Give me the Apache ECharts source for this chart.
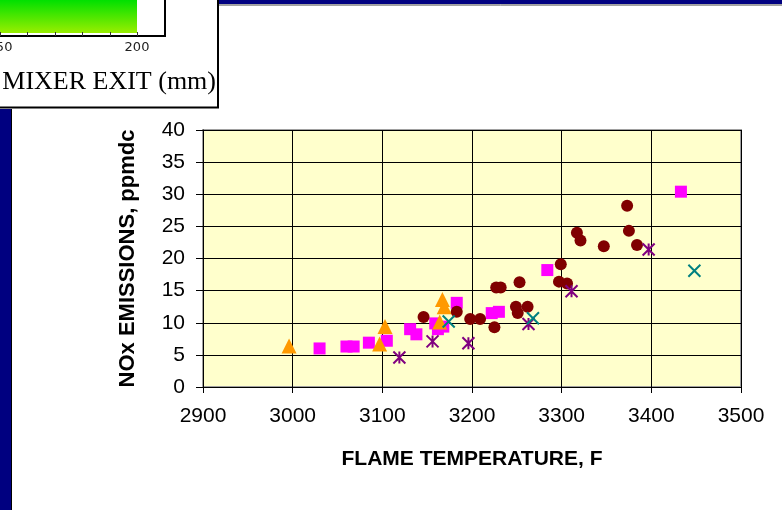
<!DOCTYPE html>
<html>
<head>
<meta charset="utf-8">
<script src="https://cdn.jsdelivr.net/npm/echarts@6/dist/echarts.min.js"></script>
<style>
  html, body { margin: 0; padding: 0; background: #fff; }
  #chart { width: 782px; height: 510px; }
</style>
</head>
<body>
<div id="chart"></div>
<script>
// axis ticks
const xTicks = [2900, 3000, 3100, 3200, 3300, 3400, 3500]
const yTicks = [0, 5, 10, 15, 20, 25, 30, 35, 40]

// [flame temperature F, NOx ppmdc]
const squarePts = [
  [3030, 6.0], [3060, 6.3], [3068, 6.3], [3085, 6.9], [3105, 7.2],
  [3131, 9.0], [3138, 8.2], [3159, 9.9], [3162, 9.0], [3168, 9.4],
  [3183, 13.1], [3222, 11.5], [3230, 11.7], [3284, 18.2], [3433, 30.4]
]
const trianglePts = [
  [2996, 6.4], [3097, 6.7], [3103, 9.4], [3164, 10.1], [3167, 13.6], [3169, 12.5]
]
const circlePts = [
  [3146, 10.9], [3183, 11.7], [3198, 10.6], [3209, 10.6], [3225, 9.3],
  [3227, 15.5], [3232, 15.5], [3249, 12.5], [3251, 11.5], [3253, 16.3],
  [3262, 12.5], [3297, 16.4], [3299, 19.1], [3306, 16.1], [3317, 24.0],
  [3321, 22.8], [3347, 21.9], [3373, 28.2], [3375, 24.3], [3384, 22.1]
]
const asteriskPts = [
  [3119, 4.6], [3156, 7.1], [3196, 6.8], [3263, 9.8], [3311, 14.9], [3397, 21.4]
]
const crossPts = [
  [3174, 10.2], [3268, 10.7], [3448, 18.1]
]

const asteriskPath = 'path://M0,0L10,10M10,0L0,10M5,0L5,10'
const crossPath = 'path://M0,0L10,10M10,0L0,10'

const navy = '#000080'
const font = 'Arial, "Liberation Sans", sans-serif'

const chart = echarts.init(document.getElementById('chart'))

chart.setOption({
  animation: false,
  backgroundColor: '#fff',
  grid: {
    left: 203,
    right: 41,
    top: 130,
    bottom: 123,
    show: true,
    backgroundColor: '#ffffcc',
    borderColor: '#a0a0a0',
    borderWidth: 2
  },
  xAxis: {
    type: 'value',
    min: xTicks[0],
    max: xTicks[xTicks.length - 1],
    interval: 100,
    name: 'FLAME TEMPERATURE, F',
    nameLocation: 'middle',
    nameGap: 62,
    nameTextStyle: { color: '#000', fontSize: 21, fontWeight: 'bold', fontFamily: font },
    axisLine: { show: true, lineStyle: { color: '#000', width: 1 } },
    axisTick: { show: true, inside: false, length: 6, lineStyle: { color: '#000' } },
    axisLabel: { color: '#000', fontSize: 21, fontFamily: font, margin: 19, formatter: v => String(v) },
    splitLine: { show: true, lineStyle: { color: '#000', width: 1 } }
  },
  yAxis: {
    type: 'value',
    min: yTicks[0],
    max: yTicks[yTicks.length - 1],
    interval: 5,
    name: 'NOx EMISSIONS, ppmdc',
    nameLocation: 'middle',
    nameGap: 64,
    nameTextStyle: { color: '#000', fontSize: 22, fontWeight: 'bold', fontFamily: font },
    axisLine: { show: true, lineStyle: { color: '#000', width: 1 } },
    axisTick: { show: true, inside: false, length: 7, lineStyle: { color: '#000' } },
    axisLabel: { color: '#000', fontSize: 21, fontFamily: font, margin: 18 },
    splitLine: { show: true, lineStyle: { color: '#000', width: 1 } }
  },
  series: [
    {
      name: 'Squares',
      type: 'scatter',
      symbol: 'rect',
      symbolSize: 12,
      itemStyle: { color: '#ff00ff', opacity: 1 },
      data: squarePts
    },
    {
      name: 'Triangles',
      type: 'scatter',
      symbol: 'triangle',
      symbolSize: 15,
      itemStyle: { color: '#ff9900', opacity: 1 },
      data: trianglePts
    },
    {
      name: 'Circles',
      type: 'scatter',
      symbol: 'circle',
      symbolSize: 12,
      itemStyle: { color: '#800000', opacity: 1 },
      data: circlePts
    },
    {
      name: 'Asterisks',
      type: 'scatter',
      symbol: asteriskPath,
      symbolSize: 12,
      itemStyle: { color: 'transparent', borderColor: '#800080', borderWidth: 2, opacity: 1 },
      data: asteriskPts
    },
    {
      name: 'Crosses',
      type: 'scatter',
      symbol: crossPath,
      symbolSize: 12,
      itemStyle: { color: 'transparent', borderColor: '#008080', borderWidth: 2, opacity: 1 },
      data: crossPts
    }
  ],
  // slide frame and the clipped picture at top left
  graphic: [
    { type: 'rect', shape: { x: 219, y: 0, width: 563, height: 4 }, style: { fill: navy } },
    { type: 'line', shape: { x1: 219, y1: 5, x2: 782, y2: 5 }, style: { stroke: '#444', lineWidth: 1 } },
    { type: 'rect', shape: { x: 0, y: 109, width: 11, height: 401 }, style: { fill: navy } },
    { type: 'line', shape: { x1: 11.5, y1: 109, x2: 11.5, y2: 510 }, style: { stroke: '#000', lineWidth: 1 } },
    {
      type: 'rect',
      shape: { x: 0, y: 0, width: 137, height: 33 },
      style: {
        fill: new echarts.graphic.LinearGradient(0, 0, 0, 1, [
          { offset: 0, color: '#00e000' },
          { offset: 1, color: '#99ee00' }
        ])
      }
    },
    { type: 'line', shape: { x1: 0, y1: 36, x2: 165, y2: 36 }, style: { stroke: '#000', lineWidth: 2 } },
    { type: 'line', shape: { x1: 165, y1: 0, x2: 165, y2: 37 }, style: { stroke: '#000', lineWidth: 2 } },
    { type: 'line', shape: { x1: 0.5, y1: 32, x2: 0.5, y2: 36 }, style: { stroke: '#333', lineWidth: 1 } },
    { type: 'line', shape: { x1: 27.5, y1: 32, x2: 27.5, y2: 36 }, style: { stroke: '#333', lineWidth: 1 } },
    { type: 'line', shape: { x1: 55.5, y1: 32, x2: 55.5, y2: 36 }, style: { stroke: '#333', lineWidth: 1 } },
    { type: 'line', shape: { x1: 82.5, y1: 32, x2: 82.5, y2: 36 }, style: { stroke: '#333', lineWidth: 1 } },
    { type: 'line', shape: { x1: 110.5, y1: 32, x2: 110.5, y2: 36 }, style: { stroke: '#333', lineWidth: 1 } },
    { type: 'line', shape: { x1: 137.5, y1: 32, x2: 137.5, y2: 36 }, style: { stroke: '#333', lineWidth: 1 } },
    {
      type: 'text', x: 0, y: 48,
      style: { text: '150', fill: '#222', font: '13px "DejaVu Sans", sans-serif', textAlign: 'center', textVerticalAlign: 'middle' }
    },
    {
      type: 'text', x: 137, y: 48,
      style: { text: '200', fill: '#222', font: '13px "DejaVu Sans", sans-serif', textAlign: 'center', textVerticalAlign: 'middle' }
    },
    {
      type: 'text', x: 216, y: 82,
      style: { text: 'MIXER EXIT (mm)', fill: '#000', font: '26px "Liberation Serif", "Times New Roman", serif', textAlign: 'right', textVerticalAlign: 'middle' }
    },
    { type: 'line', shape: { x1: 0, y1: 107.5, x2: 219, y2: 107.5 }, style: { stroke: '#000', lineWidth: 2 } },
    { type: 'line', shape: { x1: 218, y1: 0, x2: 218, y2: 108 }, style: { stroke: '#000', lineWidth: 2 } }
  ]
})
</script>
</body>
</html>
